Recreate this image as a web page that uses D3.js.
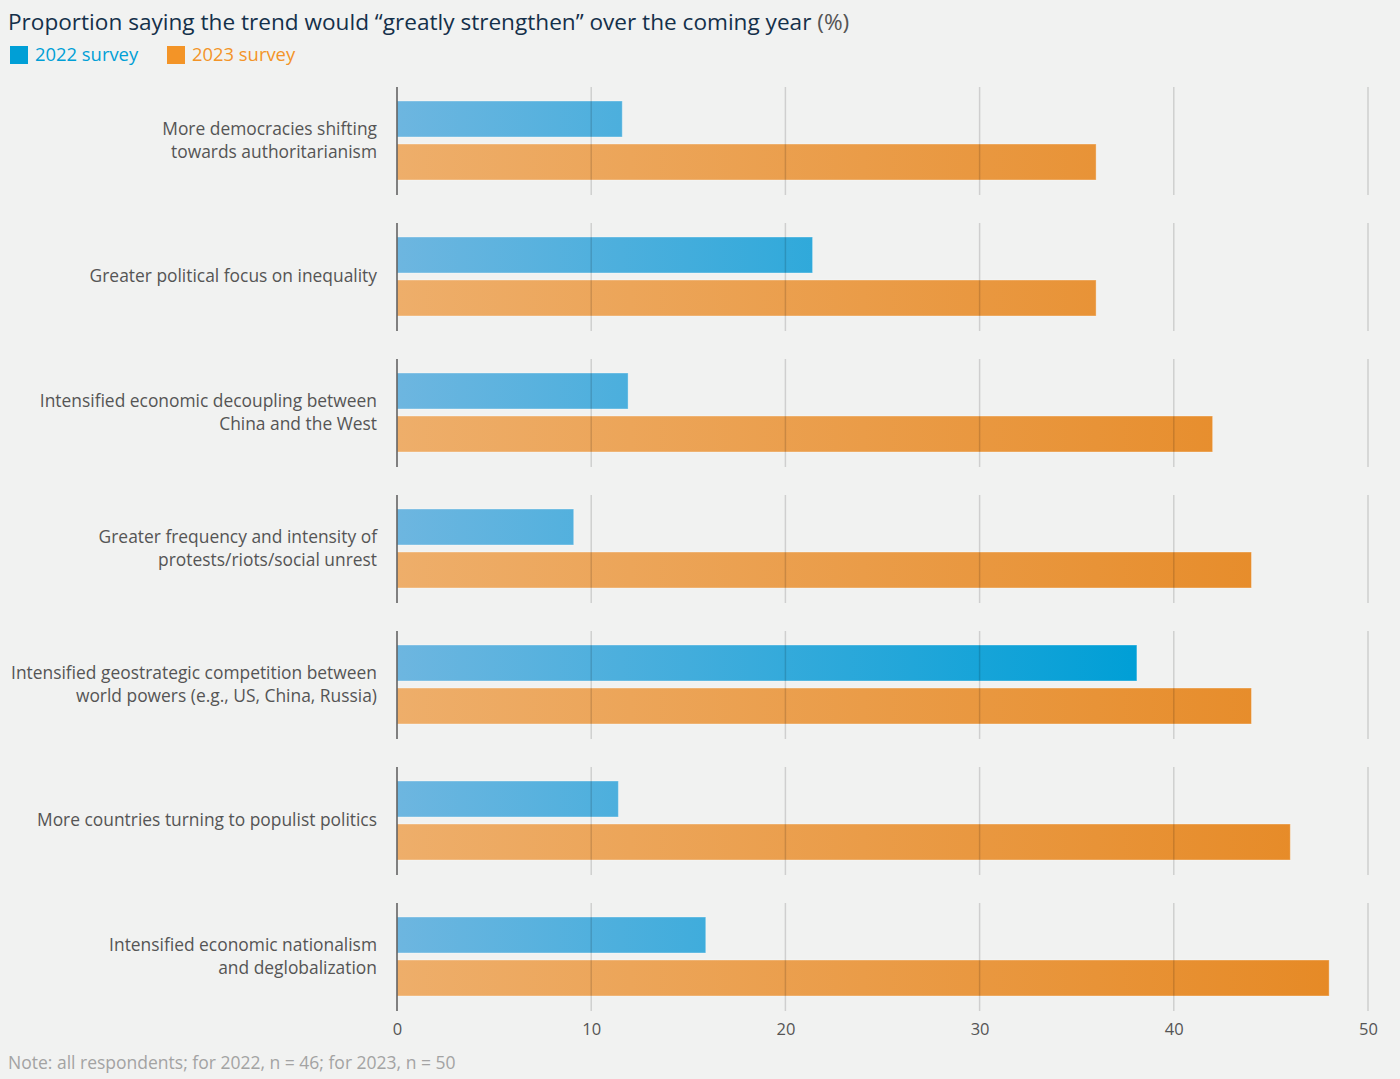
<!DOCTYPE html>
<html><head><meta charset="utf-8">
<script src="https://cdn.jsdelivr.net/npm/d3@7"></script>
<style>
html,body{margin:0;padding:0;background:#f1f2f1;}
svg{display:block;}
text{font-family:"Open Sans",sans-serif;}
</style></head>
<body><svg id="c" width="1400" height="1079"></svg>
<script>
const categories = [
  ["More democracies shifting","towards authoritarianism"],
  ["Greater political focus on inequality"],
  ["Intensified economic decoupling between","China and the West"],
  ["Greater frequency and intensity of","protests/riots/social unrest"],
  ["Intensified geostrategic competition between","world powers (e.g., US, China, Russia)"],
  ["More countries turning to populist politics"],
  ["Intensified economic nationalism","and deglobalization"]
];
const series2022 = [11.6, 21.4, 11.9, 9.1, 38.1, 11.4, 15.9];
const series2023 = [36, 36, 42, 44, 44, 46, 48];
const seriesNames = ["2022 survey","2023 survey"];
const xTicks = [0,10,20,30,40,50];

const svg = d3.select("#c");
const x = d3.scaleLinear().domain([0,50]).range([397,1368]);
const groupStep = 136, groupTop = 87, groupH = 108;
const y = d3.scaleBand().domain(d3.range(categories.length)).range([groupTop, groupTop + groupStep*categories.length]).paddingInner(0).paddingOuter(0);
const inner = d3.scaleBand().domain([0,1]).range([14, 93]).paddingInner(0.163);

const defs = svg.append("defs");
function grad(id, c0, c1, max){
  const g = defs.append("linearGradient").attr("id", id).attr("gradientUnits","userSpaceOnUse")
    .attr("x1", x(0)).attr("x2", x(max)).attr("y1",0).attr("y2",0);
  g.append("stop").attr("offset","0%").attr("stop-color",c0);
  g.append("stop").attr("offset","100%").attr("stop-color",c1);
}
grad("gb", "#6db6e0", "#009fd6", d3.max(series2022));
grad("go", "#eeae6a", "#e68a26", d3.max(series2023));

// title
svg.append("text").attr("x",8).attr("y",30).attr("font-size",22.6).attr("fill","#14304a")
  .text("Proportion saying the trend would “greatly strengthen” over the coming year ")
  .append("tspan").attr("fill","#555").text("(%)");

// legend
const legColors = ["#009fd6","#f39427"];
const legX = [10, 167];
seriesNames.forEach((n,i)=>{
  svg.append("rect").attr("x",legX[i]).attr("y",46).attr("width",18).attr("height",18).attr("fill",legColors[i]);
  svg.append("text").attr("x",legX[i]+25).attr("y",61).attr("font-size",18.4).attr("fill",legColors[i]).text(n);
});

const groups = svg.append("g").selectAll("g").data(categories).join("g")
  .attr("transform",(d,i)=>`translate(0,${y(i)})`);

// bars
groups.append("rect").attr("x",x(0)).attr("y",inner(0)).attr("height",inner.bandwidth())
  .attr("width",(d,i)=>x(series2022[i])-x(0)).attr("fill","url(#gb)")
  .attr("stroke","rgba(255,255,255,0.35)").attr("stroke-width",1);
groups.append("rect").attr("x",x(0)).attr("y",inner(1)).attr("height",inner.bandwidth())
  .attr("width",(d,i)=>x(series2023[i])-x(0)).attr("fill","url(#go)")
  .attr("stroke","rgba(255,255,255,0.35)").attr("stroke-width",1);

// gridlines (over bars)
groups.each(function(d,i){
  const g = d3.select(this);
  g.selectAll("line.grid").data(xTicks.slice(1)).join("line").attr("class","grid")
    .attr("x1",v=>x(v)).attr("x2",v=>x(v)).attr("y1",0).attr("y2",groupH)
    .attr("stroke","rgba(0,0,0,0.14)").attr("stroke-width",1.5);
  g.append("line").attr("x1",x(0)).attr("x2",x(0)).attr("y1",0).attr("y2",groupH)
    .attr("stroke","#5a5a5a").attr("stroke-width",1.5);
});

// labels
groups.append("text").attr("text-anchor","end").attr("font-size",17.4).attr("fill","#555")
  .each(function(d){
    const t = d3.select(this);
    const n = d.length;
    d.forEach((line,k)=>{
      t.append("tspan").attr("x",377).attr("y", 54 + 5 + (k-(n-1)/2)*23).text(line);
    });
  });

// axis
const axis = d3.axisBottom(x).tickValues(xTicks).tickSize(0).tickPadding(0);
const ag = svg.append("g").attr("transform","translate(0,1023)").call(axis);
ag.select(".domain").remove();
ag.selectAll("text").attr("font-size",16.5).attr("fill","#555").attr("font-family","'Open Sans', sans-serif").attr("dy","0.71em");

// note
svg.append("text").attr("x",8).attr("y",1069).attr("font-size",17.5).attr("fill","#a3a3a3")
  .text("Note: all respondents; for 2022, n = 46; for 2023, n = 50");
</script></body></html>
